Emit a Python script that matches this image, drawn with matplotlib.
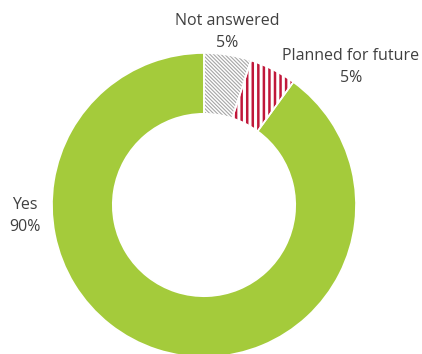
import matplotlib
matplotlib.use("Agg")
import matplotlib.pyplot as plt

categories = ["Not answered", "Planned for future", "Yes"]
shares = [5, 5, 90]
labels = ["Not answered\n5%", "Planned for future\n5%", "Yes\n90%"]

plt.rcParams['font.family'] = ['Open Sans', 'DejaVu Sans']

W, H = 422, 354
fig = plt.figure(figsize=(W / 100, H / 100), dpi=100)
ax = fig.add_axes([0, 0, 1, 1])

cx, cy, r = 204, 149, 152
wedges, _ = ax.pie(shares, startangle=90, counterclock=False,
                   center=(cx, cy), radius=r, frame=True,
                   wedgeprops=dict(width=r * 0.4, linewidth=0))
ax.set_xlim(0, W)
ax.set_ylim(0, H)
ax.set_aspect('equal')
ax.axis('off')

styles = [
    dict(face='white', hatch='\\' * 9, hcol='#A6A6A6', hlw=0.8),
    dict(face='white', hatch='|||', hcol='#C0183A', hlw=1.8),
    dict(face='#A4CB3B', hatch=None, hcol='#A4CB3B', hlw=1.0),
]
for w, s in zip(wedges, styles):
    w.set_facecolor(s['face'])
    w.set_edgecolor(s['hcol'])
    w.set_linewidth(0)
    if s['hatch']:
        w.set_hatch(s['hatch'])
        if hasattr(w, 'set_hatch_linewidth'):
            w.set_hatch_linewidth(s['hlw'])

# thin white separators between segments
for w in wedges:
    ax.add_patch(matplotlib.patches.Wedge((cx, cy), r, w.theta1, w.theta2,
                                          width=r * 0.4, facecolor='none',
                                          edgecolor='white', linewidth=1.2))

txt = dict(fontsize=11.5, color='#404040', ha='center', va='center',
           linespacing=1.5)
ax.text(227, H - 32, labels[0], **txt)
ax.text(351, H - 67, labels[1], **txt)
ax.text(25, H - 216, labels[2], **txt)

fig.savefig("out.png", dpi=100)
